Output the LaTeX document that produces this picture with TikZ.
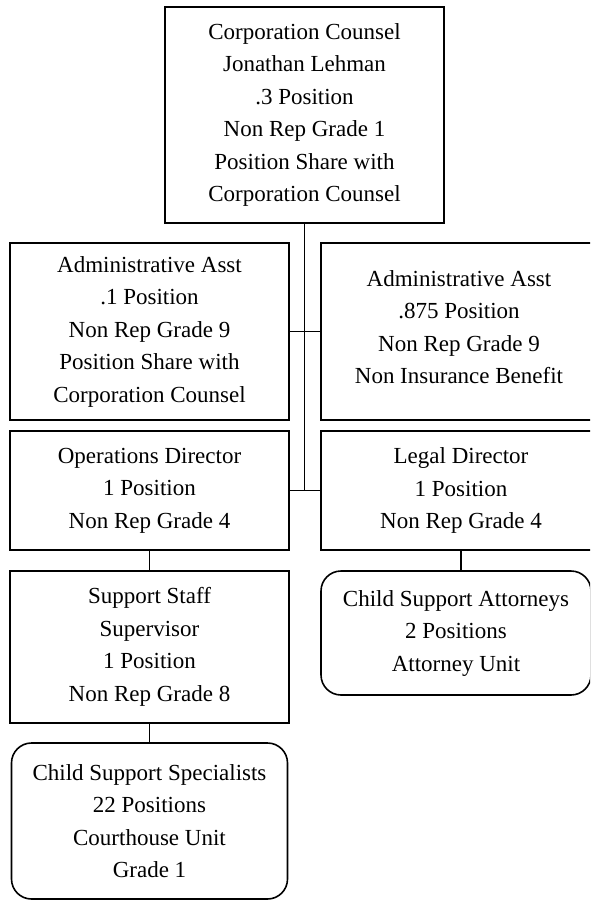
\documentclass[tikz,border=0pt]{standalone}
\usepackage{fontspec}
\setmainfont{Liberation Serif}
\begin{document}
\begin{tikzpicture}[x=1pt,y=-1pt,
  orgbox/.style={draw=black, line width=1.6pt, align=center, inner sep=0pt,
    font=\fontsize{23}{32.5}\selectfont},
  roundbox/.style={orgbox, rounded corners=20pt},
  link/.style={draw=black, line width=1.6pt}]
\useasboundingbox (0,0) rectangle (590,901);
\clip (0,0) rectangle (590,901);
\node[orgbox, minimum width=279pt, minimum height=216pt] (top) at (304.5,115)
  {Corporation Counsel\\Jonathan Lehman\\.3 Position\\Non Rep Grade 1\\Position Share with\\Corporation Counsel};
\node[orgbox, minimum width=279pt, minimum height=177pt] (admL) at (149.5,331.5)
  {Administrative Asst\\.1 Position\\Non Rep Grade 9\\Position Share with\\Corporation Counsel};
\node[orgbox, minimum width=280pt, minimum height=177pt] (admR) at (461,331.5) {};
\node[font=\fontsize{23}{32.5}\selectfont, align=center, inner sep=0pt] (admRt) at (459,327)
  {Administrative Asst\\.875 Position\\Non Rep Grade 9\\Non Insurance Benefit};
\node[orgbox, minimum width=279pt, minimum height=119pt] (opsD) at (149.5,490.5)
  {Operations Director\\1 Position\\Non Rep Grade 4};
\node[orgbox, minimum width=280pt, minimum height=119pt] (legD) at (461,490.5)
  {Legal Director\\1 Position\\Non Rep Grade 4};
\node[orgbox, minimum width=279pt, minimum height=152pt] (supS) at (149.5,647)
  {Support Staff\\Supervisor\\1 Position\\Non Rep Grade 8};
\node[roundbox, minimum width=270pt, minimum height=124pt] (attys) at (456,633)
  {Child Support Attorneys\\2 Positions\\Attorney Unit};
\node[roundbox, minimum width=276pt, minimum height=156pt] (spec) at (149.5,821)
  {Child Support Specialists\\22 Positions\\Courthouse Unit\\Grade 1};
\coordinate (j2) at (top.south |- opsD.east);
\draw[link] (top.south) -- (j2);
\draw[link] (admL.east) -- (admR.west);
\draw[link] (opsD.east) -- (legD.west);
\draw[link] (opsD.south) -- (supS.north);
\draw[link] (legD.south) -- (legD.south |- attys.north);
\draw[link] (supS.south) -- (spec.north);
\end{tikzpicture}
\end{document}
